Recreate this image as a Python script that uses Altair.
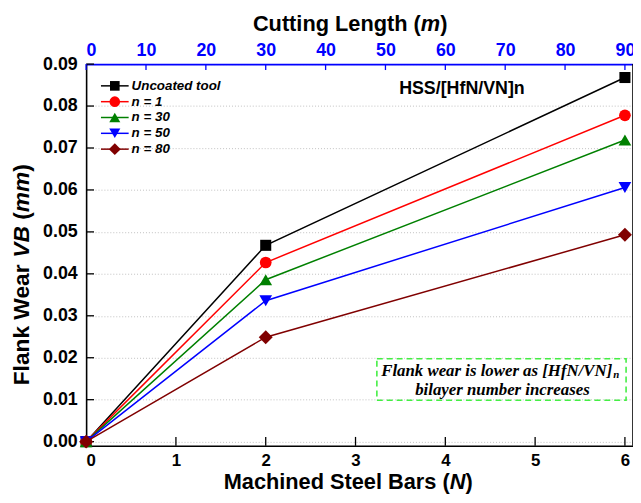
import altair as alt
import pandas as pd

# ---------------- data ----------------
bars = [0, 2, 6]
series_names = ["Uncoated tool", "n = 1", "n = 30", "n = 50", "n = 80"]
uncoated = [0.0, 0.0468, 0.0868]
n1 = [0.0, 0.0427, 0.0778]
n30 = [0.0, 0.0386, 0.0719]
n50 = [0.0, 0.0336, 0.0606]
n80 = [0.0, 0.0249, 0.0493]
series_values = [uncoated, n1, n30, n50, n80]

colors = ["#000000", "#ff0000", "#008000", "#0000ff", "#800000"]
shapes = ["square", "circle", "triangle-up", "triangle-down", "diamond"]
sizes = [125, 140, 165, 165, 200]
legend_sizes = [95, 115, 125, 125, 145]

y_ticks = [0.00, 0.01, 0.02, 0.03, 0.04, 0.05, 0.06, 0.07, 0.08, 0.09]
x_ticks = [0, 1, 2, 3, 4, 5, 6]
top_ticks = [0, 10, 20, 30, 40, 50, 60, 70, 80, 90]

# ---------------- layout ----------------
W, H = 553, 386
XMAX = 6.09
YMIN, YMAX = -0.001, 0.09
SANS = "Liberation Sans"
SERIF = "Liberation Serif"

xs = alt.Scale(domain=[0, XMAX], nice=False, zero=False)
ys = alt.Scale(domain=[YMIN, YMAX], nice=False, zero=False)
xtop = alt.Scale(domain=[0, XMAX * 15], nice=False, zero=False)

yaxis = alt.Axis(
    values=y_ticks, format=".2f", title=None, ticks=False,
    grid=True, gridDash=[1, 2], gridColor="#c0c0c0", gridWidth=1,
    labelFont=SANS, labelFontSize=18, labelFontWeight="bold",
    labelColor="black", labelPadding=9, domainColor="black",
    domainWidth=1.6)

ARIAL_B = {
    " ": 0.278, "(": 0.333, ")": 0.333, "A": 0.722, "B": 0.722,
    "C": 0.722, "F": 0.611, "L": 0.611, "M": 0.833, "N": 0.722, "S": 0.667,
    "V": 0.667, "W": 0.944, "a": 0.556, "b": 0.611, "c": 0.556, "d": 0.611,
    "e": 0.556, "g": 0.611, "h": 0.611, "i": 0.278, "k": 0.556, "l": 0.278,
    "m": 0.889, "n": 0.611, "r": 0.389, "s": 0.556, "t": 0.333, "u": 0.611,
}


def tw(s, size):
    return sum(ARIAL_B.get(c, 0.556) for c in s) * size


def rich_text(pieces, cx, cy, size, vertical=False, baseline="middle"):
    total = sum(tw(p, size) for p, _ in pieces)
    out = []
    pos = (cy + total / 2) if vertical else (cx - total / 2)
    step = -1 if vertical else 1
    for txt, italic in pieces:
        lead = len(txt) - len(txt.lstrip(" "))
        pos += step * tw(" " * lead, size)
        body = txt.strip(" ")
        kw = dict(text=body, font=SANS, fontSize=size, fontWeight="bold",
                  fontStyle="italic" if italic else "normal",
                  align="left", baseline=baseline, color="black")
        if vertical:
            m = alt.Chart().mark_text(angle=270, **kw).encode(
                x=alt.value(cx), y=alt.value(pos))
        else:
            m = alt.Chart().mark_text(**kw).encode(
                x=alt.value(pos), y=alt.value(cy))
        pos += step * tw(txt.lstrip(" "), size)
        out.append(m)
    return out


layers = []

# y axis (left) with inward ticks
ytick_df = pd.DataFrame({"v": y_ticks})
layers.append(
    alt.Chart(ytick_df).mark_rule(color="black", strokeWidth=1.3).encode(
        y=alt.Y("v:Q", scale=ys, axis=yaxis),
        x=alt.value(0), x2=alt.value(8))
)

# bottom axis with inward ticks
xtick_df = pd.DataFrame({"v": x_ticks})
layers.append(
    alt.Chart(xtick_df).mark_rule(color="black", strokeWidth=1.3).encode(
        x=alt.X("v:Q", scale=xs, axis=alt.Axis(
            orient="bottom", values=x_ticks, format="d", title=None,
            ticks=False, grid=False, labelFont=SANS, labelFontSize=17,
            labelFontWeight="bold", labelColor="black", labelPadding=7,
            domainColor="black", domainWidth=1.6)),
        y=alt.value(H - 9), y2=alt.value(H))
)

# top axis (cutting length) with inward ticks
ttick_df = pd.DataFrame({"m": top_ticks})
layers.append(
    alt.Chart(ttick_df).mark_rule(color="#0000ff", strokeWidth=1.3).encode(
        x=alt.X("m:Q", scale=xtop, axis=alt.Axis(
            orient="top", values=top_ticks, format="d", title=None,
            ticks=False, grid=False, labelFont=SANS, labelFontSize=18,
            labelFontWeight="bold", labelColor="#0000ff", labelPadding=5,
            domainColor="#0000ff", domainWidth=1.6)),
        y=alt.value(0), y2=alt.value(6))
)

# right frame
layers.append(
    alt.Chart().mark_rule(color="black", strokeWidth=1.6).encode(
        x=alt.value(W), y=alt.value(0), y2=alt.value(H))
)

# data series
for name, vals, col, shp, sz in zip(series_names, series_values, colors, shapes, sizes):
    df = pd.DataFrame({"bars": bars, "wear": vals, "series": name})
    base = alt.Chart(df).encode(
        x=alt.X("bars:Q", scale=xs, axis=None),
        y=alt.Y("wear:Q", scale=ys, axis=yaxis))
    layers.append(base.mark_line(color=col, strokeWidth=1.5))
    layers.append(base.mark_point(shape=shp, filled=True, color=col, size=sz, opacity=1))

# legend (manual, line + marker)
for i, (name, col, shp, sz) in enumerate(zip(series_names, colors, shapes, legend_sizes)):
    yy = 22 + 16 * i
    layers.append(alt.Chart().mark_rule(color=col, strokeWidth=1.5).encode(
        x=alt.value(15), x2=alt.value(43), y=alt.value(yy)))
    layers.append(alt.Chart().mark_point(shape=shp, filled=True, color=col, size=sz, opacity=1).encode(
        x=alt.value(29), y=alt.value(yy)))
    layers.append(alt.Chart().mark_text(
        text=name, font=SANS, fontSize=13.5, fontWeight="bold", fontStyle="italic",
        align="left", baseline="middle", color="black").encode(
        x=alt.value(46), y=alt.value(yy)))

# HSS label
layers.append(alt.Chart().mark_text(
    text="HSS/[HfN/VN]n", font=SANS, fontSize=18, fontWeight="bold",
    align="center", baseline="middle", color="black").encode(
    x=alt.value(380), y=alt.value(25)))

# annotation box
layers.append(alt.Chart().mark_rect(
    fillOpacity=0, stroke="#44ee44", strokeDash=[6, 4], strokeWidth=1.6).encode(
    x=alt.value(294), x2=alt.value(546), y=alt.value(298), y2=alt.value(340)))
layers.append(alt.Chart().mark_text(
    text="Flank wear is lower as [HfN/VN]", font=SERIF, fontSize=17,
    fontWeight="bold", fontStyle="italic", align="right", baseline="middle",
    color="black").encode(x=alt.value(532), y=alt.value(310)))
layers.append(alt.Chart().mark_text(
    text="n", font=SERIF, fontSize=11, fontWeight="bold", fontStyle="italic",
    align="left", baseline="middle", color="black").encode(
    x=alt.value(533), y=alt.value(314)))
layers.append(alt.Chart().mark_text(
    text="bilayer number increases", font=SERIF, fontSize=17,
    fontWeight="bold", fontStyle="italic", align="center", baseline="middle",
    color="black").encode(x=alt.value(421), y=alt.value(330)))

# titles with mixed styles
layers += rich_text([("Cutting Length (", False), ("m", True), (")", False)],
                    cx=267, cy=-40, size=22)
layers += rich_text([("Machined Steel Bars (", False), ("N", True), (")", False)],
                    cx=265, cy=430, size=22, baseline="alphabetic")
layers += rich_text([("Flank Wear ", False), ("VB", True), (" (", False),
                     ("mm", True), (")", False)],
                    cx=-65, cy=213, size=23, vertical=True)

chart = alt.layer(*layers).resolve_scale(x="independent").properties(
    width=W, height=H,
    autosize=alt.AutoSizeParams(type="none"),
    padding={"left": 79, "top": 54, "right": 0, "bottom": 47},
).configure_view(stroke=None)

chart.save("out.html", embed_options={"renderer": "svg", "actions": False})
